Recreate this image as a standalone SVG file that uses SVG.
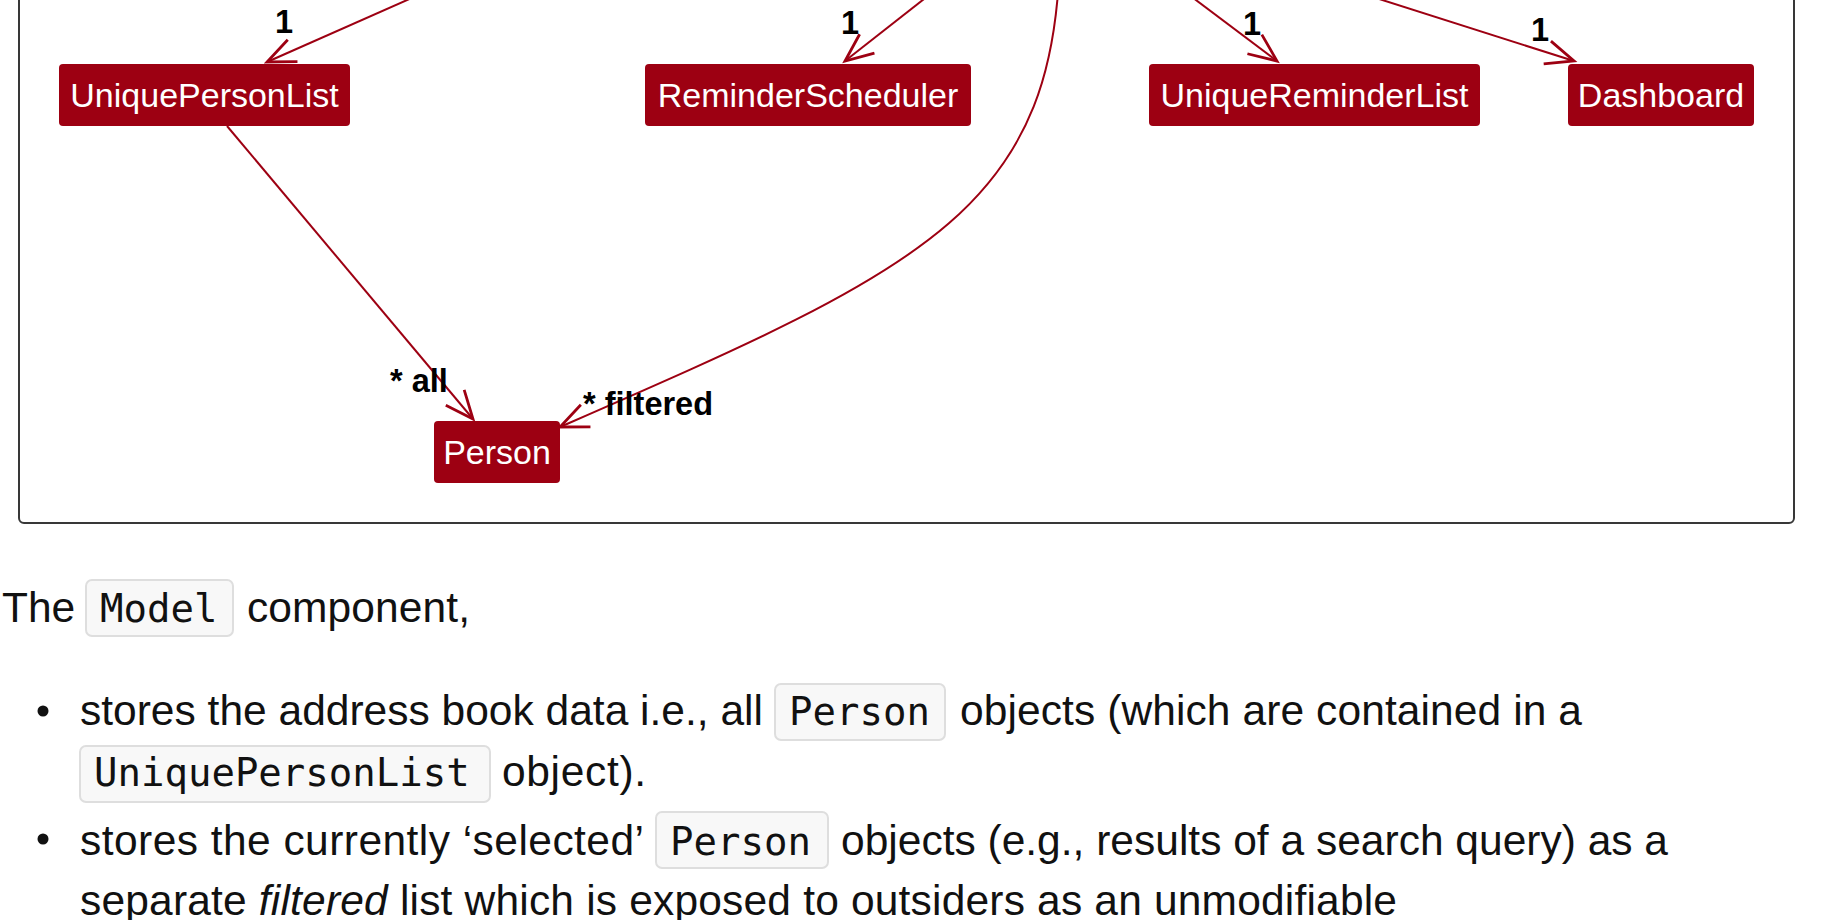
<svg xmlns="http://www.w3.org/2000/svg" width="1846" height="920" viewBox="0 0 1846 920">
<style>
.node rect { fill:#9D0012; }
.node text { fill:#ffffff; font-family:"Liberation Sans",Arial,sans-serif; font-size:34px; text-anchor:middle; }
.conn path { stroke:#9D0012; stroke-width:2; fill:none; marker-end:url(#arr); }
.lbl { font-family:"Liberation Sans",Arial,sans-serif; font-weight:bold; font-size:32.5px; fill:#000000; }
.body { font-family:"Liberation Sans",Arial,sans-serif; font-size:42.5px; fill:#111111; }
.code { font-family:"DejaVu Sans Mono","Liberation Mono",monospace; font-size:39px; fill:#111111; }
.codebox { fill:#f8f8f8; stroke:#dedede; stroke-width:2; }
</style>
<defs>
<marker id="arr" markerUnits="userSpaceOnUse" markerWidth="40" markerHeight="36" viewBox="-34 -18 40 36" refX="0" refY="0" orient="auto">
<path d="M-28,-12 L0,0 L-28,12" fill="none" stroke="#9D0012" stroke-width="2.8" stroke-linejoin="miter"/>
</marker>
</defs>
<rect id="package-frame" x="19" y="-40" width="1775" height="563" rx="5" fill="none" stroke="#383838" stroke-width="2"/>
<g id="connectors" class="conn">
<path d="M475,-30 L267,62"/>
<path d="M961,-30 L845,61"/>
<path d="M1156,-30 L1277,61"/>
<path d="M1288,-30 L1574,61"/>
<path d="M227,126 L473,419"/>
<path d="M1060,-60 C1060,210 926,267 560,427"/>
</g>
<g id="labels">
<text class="lbl" x="275" y="33">1</text>
<text class="lbl" x="841" y="34">1</text>
<text class="lbl" x="1243" y="35">1</text>
<text class="lbl" x="1531" y="41">1</text>
<text class="lbl" x="390" y="392">* all</text>
<text class="lbl" x="583" y="415">* filtered</text>
</g>
<g id="UniquePersonList" class="node"><rect x="59" y="64" width="291" height="62" rx="4"/><text x="204.5" y="107">UniquePersonList</text></g>
<g id="ReminderScheduler" class="node"><rect x="645" y="64" width="326" height="62" rx="4"/><text x="808" y="107">ReminderScheduler</text></g>
<g id="UniqueReminderList" class="node"><rect x="1149" y="64" width="331" height="62" rx="4"/><text x="1314.5" y="107">UniqueReminderList</text></g>
<g id="Dashboard" class="node"><rect x="1568" y="64" width="186" height="62" rx="4"/><text x="1661" y="107">Dashboard</text></g>
<g id="Person" class="node"><rect x="434" y="421" width="126" height="62" rx="4"/><text x="497" y="464">Person</text></g>
<g id="description">
<text class="body" x="2" y="622">The</text>
<rect class="codebox" x="86" y="580" width="147" height="56" rx="6"/>
<text class="code" x="100" y="622">Model</text>
<text class="body" x="247" y="622" textLength="223">component,</text>
<circle cx="43" cy="711" r="5.5" fill="#111111"/>
<text class="body" x="80" y="725" textLength="683">stores the address book data i.e., all</text>
<rect class="codebox" x="775" y="684" width="170" height="56" rx="6"/>
<text class="code" x="789" y="725">Person</text>
<text class="body" x="960" y="725" textLength="622">objects (which are contained in a</text>
<rect class="codebox" x="80" y="746" width="410" height="56" rx="6"/>
<text class="code" x="94" y="786">UniquePersonList</text>
<text class="body" x="502" y="786" textLength="144">object).</text>
<circle cx="43" cy="839" r="5.5" fill="#111111"/>
<text class="body" x="80" y="855" textLength="564">stores the currently ‘selected’</text>
<rect class="codebox" x="656" y="812" width="172" height="56" rx="6"/>
<text class="code" x="670" y="855">Person</text>
<text class="body" x="841" y="855" textLength="827">objects (e.g., results of a search query) as a</text>
<text class="body" x="80" y="915" textLength="1317">separate <tspan font-style="italic">filtered</tspan> list which is exposed to outsiders as an unmodifiable</text>
</g>
</svg>
